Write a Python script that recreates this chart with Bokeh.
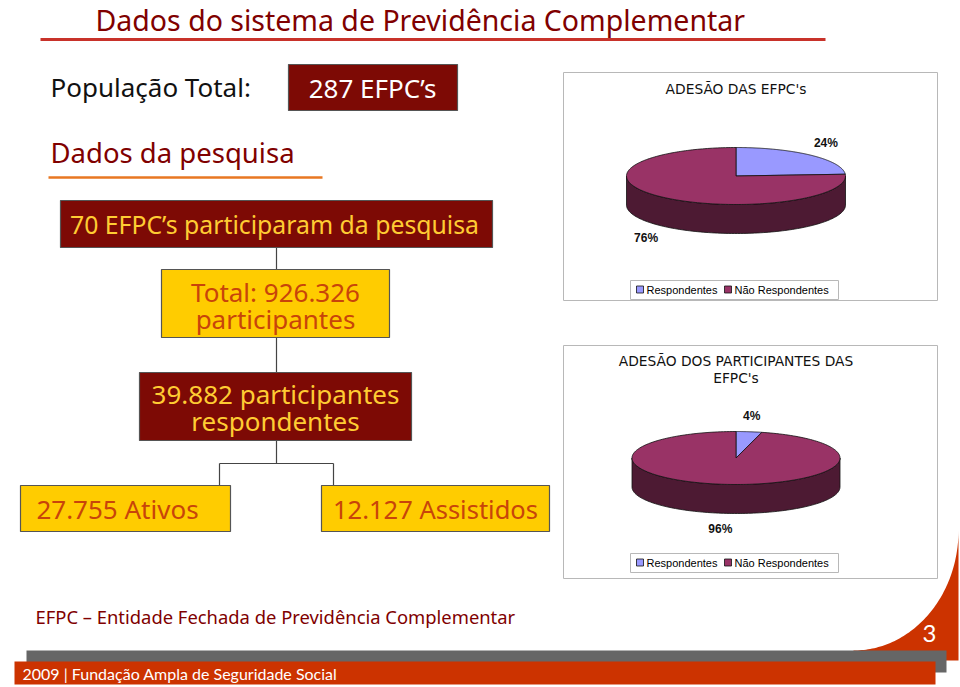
import numpy as np
from bokeh.plotting import figure
from bokeh.models import Range1d
from bokeh.core.properties import value
from bokeh.embed import file_html
from bokeh.resources import INLINE

# ---------------- data ----------------
slide_title = "Dados do sistema de Previdência Complementar"
pop_label = "População Total:"
pop_value = "287 EFPC’s"
section_title = "Dados da pesquisa"
efpc_participantes = "70 EFPC’s participaram da pesquisa"
total_participantes = ["Total: 926.326", "participantes"]
respondentes = ["39.882 participantes", "respondentes"]
ativos = "27.755 Ativos"
assistidos = "12.127 Assistidos"
footnote = "EFPC – Entidade Fechada de Previdência Complementar"
footer = "2009 | Fundação Ampla de Seguridade Social"
page_number = "3"

pie_categories = ["Respondentes", "Não Respondentes"]
pie1_title = ["ADESÃO DAS EFPC's"]
pie1_values = [24, 76]
pie2_title = ["ADESÃO DOS PARTICIPANTES DAS", "EFPC's"]
pie2_values = [4, 96]

# ---------------- styles ----------------
MAROON = "#7d0a05"
YELLOW = "#ffcc00"
YTEXT = "#ffcc33"
OTEXT = "#c8440a"
SLICE_COLORS = ["#9999ff", "#993366"]
SIDE_COLOR = "#4d1a33"
FONT = value("Noto Sans")

p = figure(width=960, height=687, x_range=Range1d(0, 960), y_range=Range1d(687, 0),
           output_backend="svg", toolbar_location=None, min_border=0)
p.axis.visible = False
p.grid.visible = False
p.outline_line_color = None
p.background_fill_color = "white"
p.border_fill_color = "white"

def txt(x, y, t, size, color, align="left", font=FONT, style="normal"):
    p.text(x=[x], y=[y], text=[t], text_font=font, text_font_size=size, text_color=color,
           text_align=align, text_baseline="middle", text_font_style=style)

def box(l, r, t, b, fill, line="#555555"):
    p.quad(left=[l], right=[r], top=[t], bottom=[b], fill_color=fill, line_color=line, line_width=1.2)

# title
txt(95, 19, slide_title, "28.5px", "#800000")
p.line(x=[40, 825], y=[39, 39], line_color="#c8322a", line_width=3)

# population
txt(50, 86, pop_label, "26px", "#111111")
box(288, 457, 64, 110, MAROON)
txt(372, 87, pop_value, "26px", "white", "center")

txt(50, 152, section_title, "27.5px", "#800000")
p.line(x=[48, 322], y=[177, 177], line_color="#e87722", line_width=2.5)

# flow chart connectors
p.segment(x0=[276, 276, 276, 219, 219, 333], y0=[247, 337, 440, 463, 463, 463],
          x1=[276, 276, 276, 333, 219, 333], y1=[269, 372, 463, 463, 485, 485],
          line_color="#444444", line_width=1.2)

box(60, 492, 200, 247, MAROON)
txt(274, 223, efpc_participantes, "24.8px", YTEXT, "center")

box(161, 389, 269, 337, YELLOW)
txt(275, 291, total_participantes[0], "26px", OTEXT, "center")
txt(275, 318, total_participantes[1], "26px", OTEXT, "center")

box(139, 411, 372, 440, MAROON)
txt(275, 393, respondentes[0], "26px", YTEXT, "center")
txt(275, 420, respondentes[1], "26px", YTEXT, "center")

box(20, 230, 485, 531, YELLOW)
txt(117, 508, ativos, "26px", OTEXT, "center")
box(321, 549, 485, 531, YELLOW)
txt(435, 508, assistidos, "25.5px", OTEXT, "center")

# ---------------- 3D pies ----------------
def pie3d(values, titles, bx0, by0, bx1, by1, cx, cy, rx, ry, depth, title_y, legend_y):
    p.quad(left=[bx0], right=[bx1], top=[by0], bottom=[by1], fill_color="white",
           line_color="#b8b8b8", line_width=1)
    for i, t in enumerate(titles):
        txt(cx, title_y + i * 17, t, "13.8px", "#111111", "center", value("DejaVu Sans"))
    vals = np.array(values, dtype=float)
    frac = vals / vals.sum()
    edges = np.concatenate([[0], np.cumsum(frac)]) * 2 * np.pi
    # side (front half)
    th = np.linspace(np.pi / 2, 3 * np.pi / 2, 120)
    sx = cx + rx * np.sin(th)
    sy = cy - ry * np.cos(th)
    side_x = list(sx) + list(sx[::-1])
    side_y = list(sy) + list((sy + depth)[::-1])
    p.patch(x=side_x, y=side_y, fill_color=SIDE_COLOR, line_color="#111111", line_width=0.8)
    # top slices
    xs, ys = [], []
    for a0, a1 in zip(edges[:-1], edges[1:]):
        t = np.linspace(a0, a1, 200)
        xs.append([cx] + list(cx + rx * np.sin(t)) + [cx])
        ys.append([cy] + list(cy - ry * np.cos(t)) + [cy])
    p.patches(xs=xs, ys=ys, fill_color=SLICE_COLORS, line_color="#111111", line_width=0.8)
    # labels
    for a0, a1, v in zip(edges[:-1], edges[1:], vals):
        m = (a0 + a1) / 2
        lx = cx + 1.2 * rx * np.sin(m)
        ly = cy - 1.6 * ry * np.cos(m) + (depth if np.cos(m) < 0 else 0)
        txt(lx, ly, f"{int(v)}%", "12px", "#111111", "center", value("Liberation Sans"), "bold")
    # legend
    p.quad(left=[630], right=[838], top=[legend_y - 9.5], bottom=[legend_y + 9.5],
           fill_color="white", line_color="#b8b8b8", line_width=1)
    lx = 636
    for c, name, w in zip(SLICE_COLORS, pie_categories, [88, 0]):
        p.quad(left=[lx], right=[lx + 7], top=[legend_y - 4], bottom=[legend_y + 3],
               fill_color=c, line_color="#111111", line_width=0.8)
        txt(lx + 10, legend_y, name, "11px", "#000000", "left", value("Liberation Sans"))
        lx += w

pie3d(pie1_values, pie1_title, 563, 72, 937, 300, 735.5, 175.5, 109.5, 28.5, 29, 88, 289.5)
pie3d(pie2_values, pie2_title, 563, 345, 937, 578, 735.5, 457.5, 104, 26.5, 29, 360, 562.5)

# ---------------- footer ----------------
txt(35, 616, footnote, "18.4px", "#800000")
th = np.linspace(0, np.pi / 2, 80)
curve_x = list(853 + 105 * np.sin(th))
curve_y = list(530 + 120 * np.cos(th))
p.patch(x=curve_x + [958, 853], y=curve_y + [660, 660], fill_color="#cc3300", line_color=None)
p.quad(left=[26], right=[946], top=[650], bottom=[672], fill_color="#666666", line_color=None)
p.quad(left=[14], right=[935], top=[661], bottom=[684], fill_color="#cc3300", line_color=None)
txt(22, 673, footer, "16px", "white", "left", value("Lato"))
txt(929, 633, page_number, "24px", "white", "center", value("Lato"))

open("out.html", "w").write(file_html(p, INLINE))
